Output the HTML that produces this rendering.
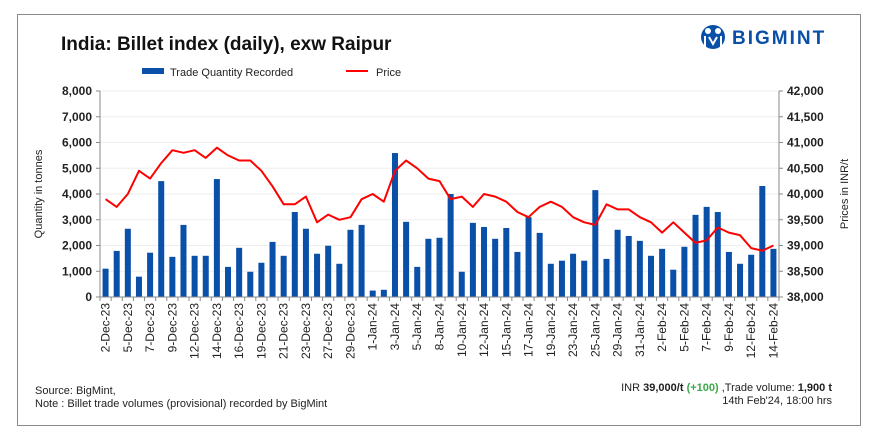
<!DOCTYPE html>
<html><head><meta charset="utf-8"><style>
body{margin:0;background:#fff;font-family:"Liberation Sans",Arial,sans-serif;}
#wrap{position:relative;width:884px;height:444px;overflow:hidden;background:#fff}
svg text{font-family:"Liberation Sans",Arial,sans-serif}
</style></head><body>
<div id="wrap">
<svg id="chart" width="884" height="444">
<rect x="17.5" y="14.5" width="843" height="411" fill="none" stroke="#8a8a8a" stroke-width="1"/>
<text x="61" y="50" font-size="19" font-weight="bold" fill="#111">India: Billet index (daily), exw Raipur</text>
<g>
<circle cx="713" cy="37" r="12" fill="#0a4fa8"/>
<circle cx="708" cy="31" r="3" fill="#fff"/><circle cx="718" cy="31" r="3" fill="#fff"/>
<path d="M705 36 L705 47 M721 36 L721 47 M709 37 L713 44 L717 37" stroke="#fff" stroke-width="2" fill="none"/>
<text x="732" y="44" font-size="19" font-weight="bold" fill="#0a4fa8" letter-spacing="2">BIGMINT</text>
</g>
<g>
<rect x="142" y="68" width="22" height="6" fill="#0a4fa8"/>
<text x="170" y="76" font-size="11" fill="#222">Trade Quantity Recorded</text>
<line x1="346" y1="71" x2="368" y2="71" stroke="#f00" stroke-width="2"/>
<text x="376" y="76" font-size="11" fill="#222">Price</text>
</g>
<g id="grid"></g><g id="bars"></g><g id="line"></g><g id="axes"></g>
<text transform="translate(42,194) rotate(-90)" text-anchor="middle" font-size="11" fill="#222">Quantity in tonnes</text>
<text transform="translate(848,194) rotate(-90)" text-anchor="middle" font-size="11" fill="#222">Prices in INR/t</text>
<text x="35" y="394" font-size="11" fill="#222">Source: BigMint,</text>
<text x="35" y="407" font-size="11" fill="#222">Note : Billet trade volumes (provisional) recorded by BigMint</text>
<text x="832" y="391" text-anchor="end" font-size="11" fill="#222">INR <tspan font-weight="bold">39,000/t</tspan> <tspan font-weight="bold" fill="#3aa84a">(+100)</tspan> ,Trade volume: <tspan font-weight="bold">1,900 t</tspan></text>
<text x="832" y="404" text-anchor="end" font-size="11" fill="#222">14th Feb'24, 18:00 hrs</text>
</svg>
</div>
<script>
const quantities=[1100,1790,2650,790,1720,4500,1560,2800,1600,1600,4580,1170,1910,980,1330,2140,1600,3300,2650,1680,1990,1290,2610,2800,250,280,5590,2920,1170,2260,2300,4000,980,2880,2720,2260,2680,1750,3100,2490,1290,1410,1680,1410,4150,1480,2610,2370,2180,1600,1870,1060,1950,3190,3500,3300,1750,1290,1640,4310,1870];
const prices=[39900,39750,40000,40450,40300,40600,40850,40800,40850,40700,40900,40750,40650,40650,40450,40150,39800,39800,39950,39450,39600,39500,39550,39900,40000,39850,40450,40650,40500,40300,40250,39900,39950,39750,40000,39950,39850,39650,39550,39750,39850,39750,39550,39450,39400,39800,39700,39700,39550,39450,39250,39450,39250,39050,39100,39350,39250,39200,38950,38900,39000];
const dateLabels=["2-Dec-23","5-Dec-23","7-Dec-23","9-Dec-23","12-Dec-23","14-Dec-23","16-Dec-23","19-Dec-23","21-Dec-23","23-Dec-23","27-Dec-23","29-Dec-23","1-Jan-24","3-Jan-24","5-Jan-24","8-Jan-24","10-Jan-24","12-Jan-24","15-Jan-24","17-Jan-24","19-Jan-24","23-Jan-24","25-Jan-24","29-Jan-24","31-Jan-24","2-Feb-24","5-Feb-24","7-Feb-24","9-Feb-24","12-Feb-24","14-Feb-24"];
const leftTicks=[0,1000,2000,3000,4000,5000,6000,7000,8000];
const rightTicks=[38000,38500,39000,39500,40000,40500,41000,41500,42000];
const NS="http://www.w3.org/2000/svg";
const L=100,R=779,T=91,B=297;
const n=quantities.length,bw=(R-L)/n;
const xc=i=>L+bw*(i+0.5);
const yL=v=>B-(v-0)/(8000)*(B-T);
const yR=v=>B-(v-38000)/(4000)*(B-T);
function mk(tag,attrs,parent,txt){const e=document.createElementNS(NS,tag);for(const k in attrs)e.setAttribute(k,attrs[k]);if(txt!==undefined)e.textContent=txt;document.getElementById(parent).appendChild(e);return e;}
const fmt=v=>v.toLocaleString('en-US');
leftTicks.forEach((v,i)=>{
 if(v>0){const g=mk('line',{x1:L,x2:R,y1:yL(v),y2:yL(v),stroke:'#eeeeee','stroke-width':1},'grid');
 
 }
 const t=mk('line',{x1:L-4,x2:L,y1:yL(v),y2:yL(v),stroke:'#888'},'axes');
 
 
 const tx=mk('text',{x:L-8,y:yL(v)+4,'text-anchor':'end','font-size':12,'font-weight':'bold',fill:'#222'},'axes',fmt(v));
 
 
});
rightTicks.forEach(v=>{
 const t=mk('line',{x1:R,x2:R+4,y1:yR(v),y2:yR(v),stroke:'#888'},'axes');
 
 
 const tx=mk('text',{x:R+8,y:yR(v)+4,'font-size':12,'font-weight':'bold',fill:'#222'},'axes',fmt(v));
 
 
});
quantities.forEach((q,i)=>{
 const b=mk('rect',{x:xc(i)-3,y:yL(q),width:6,height:B-yL(q),fill:'#0a4fa8'},'bars');
 
 
});
const pts=prices.map((p,i)=>xc(i).toFixed(1)+','+yR(p).toFixed(1)).join(' ');
const pl=mk('polyline',{points:pts,fill:'none',stroke:'#f00','stroke-width':2,'stroke-linejoin':'round'},'line');


const ax1=mk('line',{x1:L,x2:L,y1:T,y2:B,stroke:'#888'},'axes');


const ax2=mk('line',{x1:R,x2:R,y1:T,y2:B,stroke:'#888'},'axes');


const ax3=mk('line',{x1:L,x2:R,y1:B,y2:B,stroke:'#888'},'axes');


for(let i=0;i<=n;i++){
 const t=mk('line',{x1:L+bw*i,x2:L+bw*i,y1:B,y2:B+4,stroke:'#888'},'axes');
 
 
}
dateLabels.forEach((d,j)=>{
 const x=xc(j*2)+4;
 const t=mk('text',{transform:`translate(${x},${B+6}) rotate(-90)`,'text-anchor':'end','font-size':12,fill:'#222'},'axes',d);
 
 
});
</script>
</body></html>
